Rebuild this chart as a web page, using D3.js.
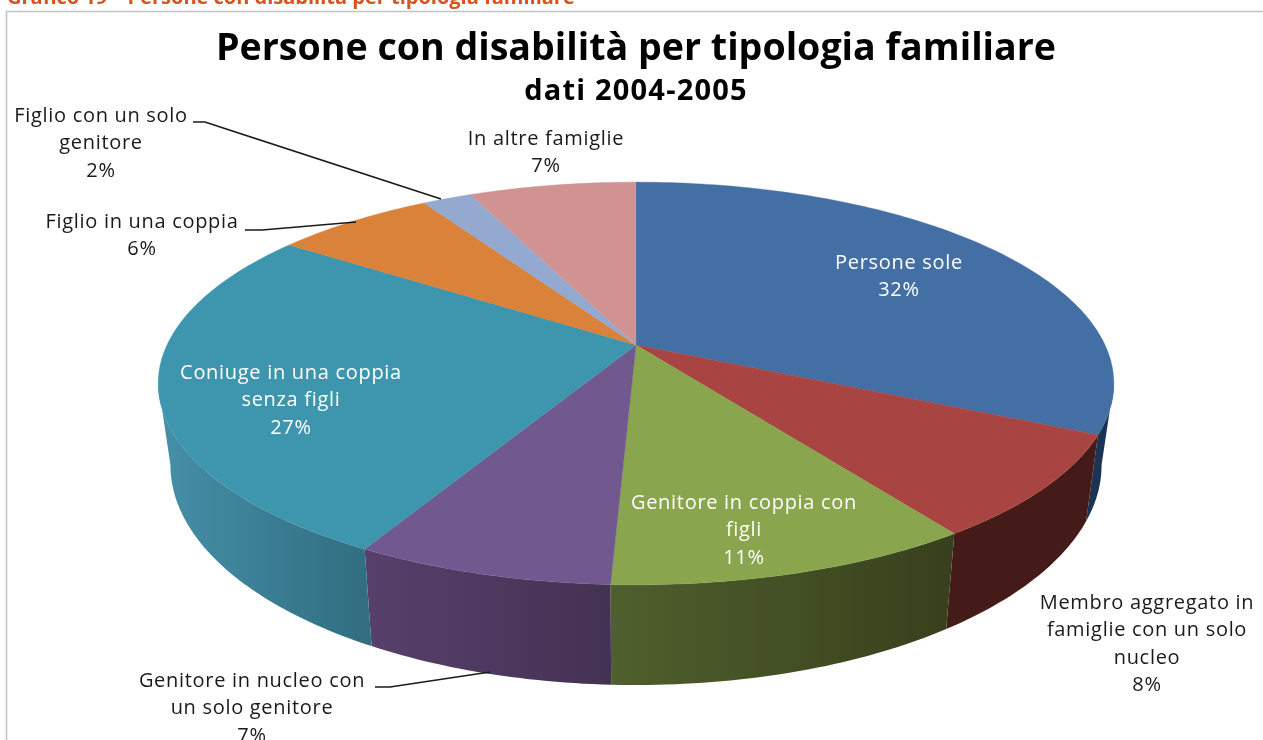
<!DOCTYPE html>
<html>
<head>
<meta charset="utf-8">
<script src="https://cdn.jsdelivr.net/npm/d3@7"></script>
<style>
  html, body { margin: 0; padding: 0; background: #fff; overflow: hidden; }
  svg { display: block; filter: blur(0.35px); }
  text { font-family: "Open Sans", sans-serif; }
</style>
</head>
<body>
<div id="vis"></div>
<script>
// Slices, clockwise from 12 o'clock. (angles of the slice edges)
const categories = [
    'Persone sole',
    'Membro aggregato in famiglie con un solo nucleo',
    'Genitore in coppia con figli',
    'Genitore in nucleo con un solo genitore',
    'Coniuge in una coppia senza figli',
    'Figlio in una coppia',
    'Figlio con un solo genitore',
    'In altre famiglie'
];
const values = [32, 8.3, 10.4, 7.3, 26.7, 6.5, 2, 6.8];
const percentLabels = ['32%', '8%', '11%', '7%', '27%', '6%', '2%', '7%'];

const topColors = ['#446fa4', '#a84442', '#89a54e', '#71588f', '#3e95ae', '#da8239', '#93a9cf', '#d19392'];
const wallLeft = ['#1b3452', '#451b19', '#505f2d', '#57406b', '#4590a8', '#000', '#000', '#000'];
const wallRight = ['#1b3452', '#451b19', '#37401c', '#443253', '#316d80', '#000', '#000', '#000'];

// Label layout: centre x, y centre of each text line
const labelLines = [
    ['Persone sole', '32%'],
    ['Membro aggregato  in', 'famiglie con un solo', 'nucleo', '8%'],
    ['Genitore in coppia con', 'figli', '11%'],
    ['Genitore in nucleo con', 'un solo genitore', '7%'],
    ['Coniuge in una coppia', 'senza figli', '27%'],
    ['Figlio in una coppia', '6%'],
    ['Figlio con un solo', 'genitore', '2%'],
    ['In altre  famiglie', '7%']
];
const labelX = [899, 1147, 744, 252, 291, 142, 101, 546];
const labelY = [262, 602, 502, 680, 372, 221, 115, 138];
const labelFill = ['#fff', '#1a1a1a', '#fff', '#1a1a1a', '#fff', '#1a1a1a', '#1a1a1a', '#1a1a1a'];

// Leader lines for the labels that sit outside the pie
const leaders = [
    [[193, 122], [205, 122], [441, 199]],
    [[245, 230], [262, 230], [356, 222]],
    [[375, 687], [390, 687], [490, 672]]
];

const width = 1263;
const height = 740;

const svg = d3.select('#vis')
    .append('svg')
    .attr('width', width)
    .attr('height', height);

const color = d3.scaleOrdinal().domain(categories).range(topColors);

// Frame of the chart + the cut off caption above it
svg.append('path')
    .attr('d', `M6.5,${height} V11.5 H${width}`)
    .attr('fill', 'none')
    .attr('stroke', '#c4c4c4')
    .attr('stroke-width', 1.6);

svg.append('text')
    .attr('x', 7)
    .attr('y', 4)
    .attr('font-size', 20)
    .attr('font-weight', 700)
    .attr('fill', '#d9531e')
    .text('Grafico 19 \u2013 Persone con disabilità per tipologia familiare');

svg.append('text')
    .attr('x', 636)
    .attr('y', 60)
    .attr('text-anchor', 'middle')
    .attr('font-size', 37.6)
    .attr('font-weight', 700)
    .attr('fill', '#000')
    .text('Persone con disabilità per tipologia familiare');

svg.append('text')
    .attr('x', 636)
    .attr('y', 100)
    .attr('text-anchor', 'middle')
    .attr('font-size', 29)
    .attr('font-weight', 700)
    .attr('letter-spacing', 1.2)
    .attr('fill', '#000')
    .text('dati 2004-2005');

// Perspective view of the disc: the pie centre is not the ellipse centre
const cx = 636;
const k = 0.191;
const topFace = {a: 469, b: 194, y0: 345};
const bottomFace = {a: 457, b: 212, y0: 423};

function project(angle, face) {
    const w = 1 + k * Math.cos(angle);
    return [cx + face.a * Math.sin(angle) / w, face.y0 - face.b * Math.cos(angle) / w];
}

function arcPoints(start, end, face) {
    const n = Math.max(2, Math.ceil((end - start) * 60));
    return d3.range(n + 1).map(i => project(start + (end - start) * i / n, face));
}

const pie = d3.pie().sort(null).value(d => d)(values);
const line = d3.line();
const defs = svg.append('defs');

// Only the front of the side wall shows, between the two silhouette angles
const wallFrom = Math.acos(-k);
const wallTo = 2 * Math.PI - wallFrom;

pie.forEach((d, i) => {
    const start = Math.max(d.startAngle, wallFrom);
    const end = Math.min(d.endAngle, wallTo);
    if (end <= start) return;

    const upper = arcPoints(start, end, topFace);
    const lower = arcPoints(start, end, bottomFace).reverse();
    const xs = upper.concat(lower).map(p => p[0]);

    // Excel shades the wall from side to side
    const shade = defs.append('linearGradient')
        .attr('id', `wall${i}`)
        .attr('gradientUnits', 'userSpaceOnUse')
        .attr('x1', d3.min(xs))
        .attr('x2', d3.max(xs))
        .attr('y1', 0)
        .attr('y2', 0);
    shade.append('stop').attr('offset', 0).attr('stop-color', wallLeft[i]);
    shade.append('stop').attr('offset', 1).attr('stop-color', wallRight[i]);

    svg.append('path')
        .attr('d', line(upper.concat(lower)) + 'Z')
        .attr('fill', `url(#wall${i})`);
});

svg.selectAll('path.slice')
    .data(pie)
    .enter()
    .append('path')
    .attr('class', 'slice')
    .attr('d', d => line([[cx, topFace.y0]].concat(arcPoints(d.startAngle, d.endAngle, topFace))) + 'Z')
    .attr('fill', (d, i) => color(categories[i]))
    .attr('stroke', (d, i) => color(categories[i]))
    .attr('stroke-width', 0.4);

// Leader lines
svg.selectAll('path.leader')
    .data(leaders)
    .enter()
    .append('path')
    .attr('class', 'leader')
    .attr('d', d => line(d))
    .attr('fill', 'none')
    .attr('stroke', '#1a1a1a')
    .attr('stroke-width', 1.6);

// Labels, one text element per line
labelLines.forEach((lines, i) => {
    const last = lines.length - 1;
    lines.forEach((t, j) => {
        svg.append('text')
            .attr('x', labelX[i])
            .attr('y', labelY[i] + j * 27.4)
            .attr('dy', '0.35em')
            .attr('text-anchor', 'middle')
            .attr('font-size', 20)
            .attr('letter-spacing', 0.7)
            .attr('fill', labelFill[i])
            .text(j === last ? percentLabels[i] : t);
    });
});
</script>
</body>
</html>
